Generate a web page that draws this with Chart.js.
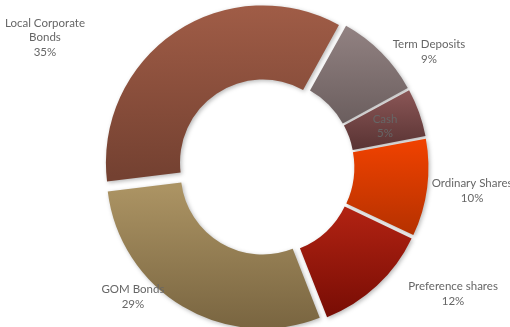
<!DOCTYPE html>
<html>
<head>
<meta charset="utf-8">
<script src="https://cdn.jsdelivr.net/npm/chart.js@4/dist/chart.umd.min.js"></script>
<style>
  html, body { margin: 0; padding: 0; background: #fff; }
  #wrap { width: 510px; height: 327px; position: relative; }
</style>
</head>
<body>
<div id="wrap"><canvas id="myChart"></canvas></div>
<script>
const categories = ['Term Deposits', 'Cash', 'Ordinary Shares', 'Preference shares', 'GOM Bonds', ['Local Corporate', 'Bonds']];
const shares = [9, 5, 10, 12, 29, 35];

// gradient stops per slice: top colour, bottom colour
const topColors = ['#938383', '#8c5757', '#f04200', '#b02212', '#ab9363', '#a15d47'];
const bottomColors = ['#6c5f5f', '#5a3434', '#b53100', '#760c04', '#77633f', '#744131'];

// label placement relative to the ring centre, in units of outer radius
const labelPos = [[1.045, -0.74], [0.763, -0.26], [1.321, 0.154], [1.199, 0.814], [-0.853, 0.833], [-1.417, -0.83]];

const ROTATION = 29;
const OUTER = 156;
const CUT = 0.525;
const EXPLODE = 6.5;

const total = shares.reduce((a, b) => a + b, 0);

function sliceOffset(ctx) {
  const circ = shares[ctx.dataIndex] / total * Math.PI * 2;
  // chart.js moves an arc by offset/4 * (2 - sin(circ)), keep the shift equal
  return 4 * EXPLODE / (2 - Math.sin(Math.min(Math.PI, circ)));
}

function sliceFill(ctx) {
  const chart = ctx.chart;
  const area = chart.chartArea;
  const i = ctx.dataIndex;
  if (!area) return topColors[i];
  const cx = (area.left + area.right) / 2;
  const cy = (area.top + area.bottom) / 2;
  let start = ROTATION * Math.PI / 180 - Math.PI / 2;
  for (let k = 0; k < i; k++) start += shares[k] / total * Math.PI * 2;
  const end = start + shares[i] / total * Math.PI * 2;
  const mid = (start + end) / 2;
  const oy = cy + Math.sin(mid) * EXPLODE;
  let minY = Infinity, maxY = -Infinity;
  for (let s = 0; s <= 60; s++) {
    const a = start + (end - start) * s / 60;
    [OUTER, OUTER * CUT].forEach(r => {
      const y = oy + Math.sin(a) * r;
      minY = Math.min(minY, y);
      maxY = Math.max(maxY, y);
    });
  }
  const g = chart.ctx.createLinearGradient(0, minY, 0, maxY);
  g.addColorStop(0, topColors[i]);
  g.addColorStop(1, bottomColors[i]);
  return g;
}

const shadowPlugin = {
  id: 'shadow',
  beforeDatasetsDraw(chart) {
    const c = chart.ctx;
    c.save();
    c.shadowColor = 'rgba(0,0,0,0.28)';
    c.shadowBlur = 4;
    c.shadowOffsetX = 1.5;
    c.shadowOffsetY = 1.5;
  },
  afterDatasetsDraw(chart) {
    chart.ctx.restore();
  }
};

const labelPlugin = {
  id: 'sliceLabels',
  afterDraw(chart) {
    const c = chart.ctx;
    const meta = chart.getDatasetMeta(0);
    c.save();
    c.font = '11.5px Lato';
    c.fillStyle = '#666666';
    c.textAlign = 'center';
    c.textBaseline = 'middle';
    const lh = 14.5;
    meta.data.forEach((arc, i) => {
      const name = categories[i];
      const lines = (Array.isArray(name) ? name.slice() : [name]);
      lines.push(Math.round(shares[i] / total * 100) + '%');
      const x = arc.x + labelPos[i][0] * arc.outerRadius;
      const y = arc.y + labelPos[i][1] * arc.outerRadius;
      const y0 = y - (lines.length - 1) * lh / 2;
      lines.forEach((t, j) => c.fillText(t, x, y0 + j * lh));
    });
    c.restore();
  }
};

const ctx = document.getElementById('myChart').getContext('2d');
const myChart = new Chart(ctx, {
  type: 'doughnut',
  data: {
    labels: categories,
    datasets: [{
      data: shares,
      backgroundColor: sliceFill,
      borderWidth: 0,
      offset: sliceOffset,
      hoverOffset: 0
    }]
  },
  options: {
    responsive: true,
    maintainAspectRatio: false,
    animation: false,
    rotation: ROTATION,
    radius: OUTER,
    cutout: (CUT * 100) + '%',
    layout: { padding: { left: 22, right: 0, top: 7, bottom: 0 } },
    plugins: {
      legend: { display: false },
      tooltip: { enabled: false }
    },
    events: []
  },
  plugins: [shadowPlugin, labelPlugin]
});
</script>
</body>
</html>
